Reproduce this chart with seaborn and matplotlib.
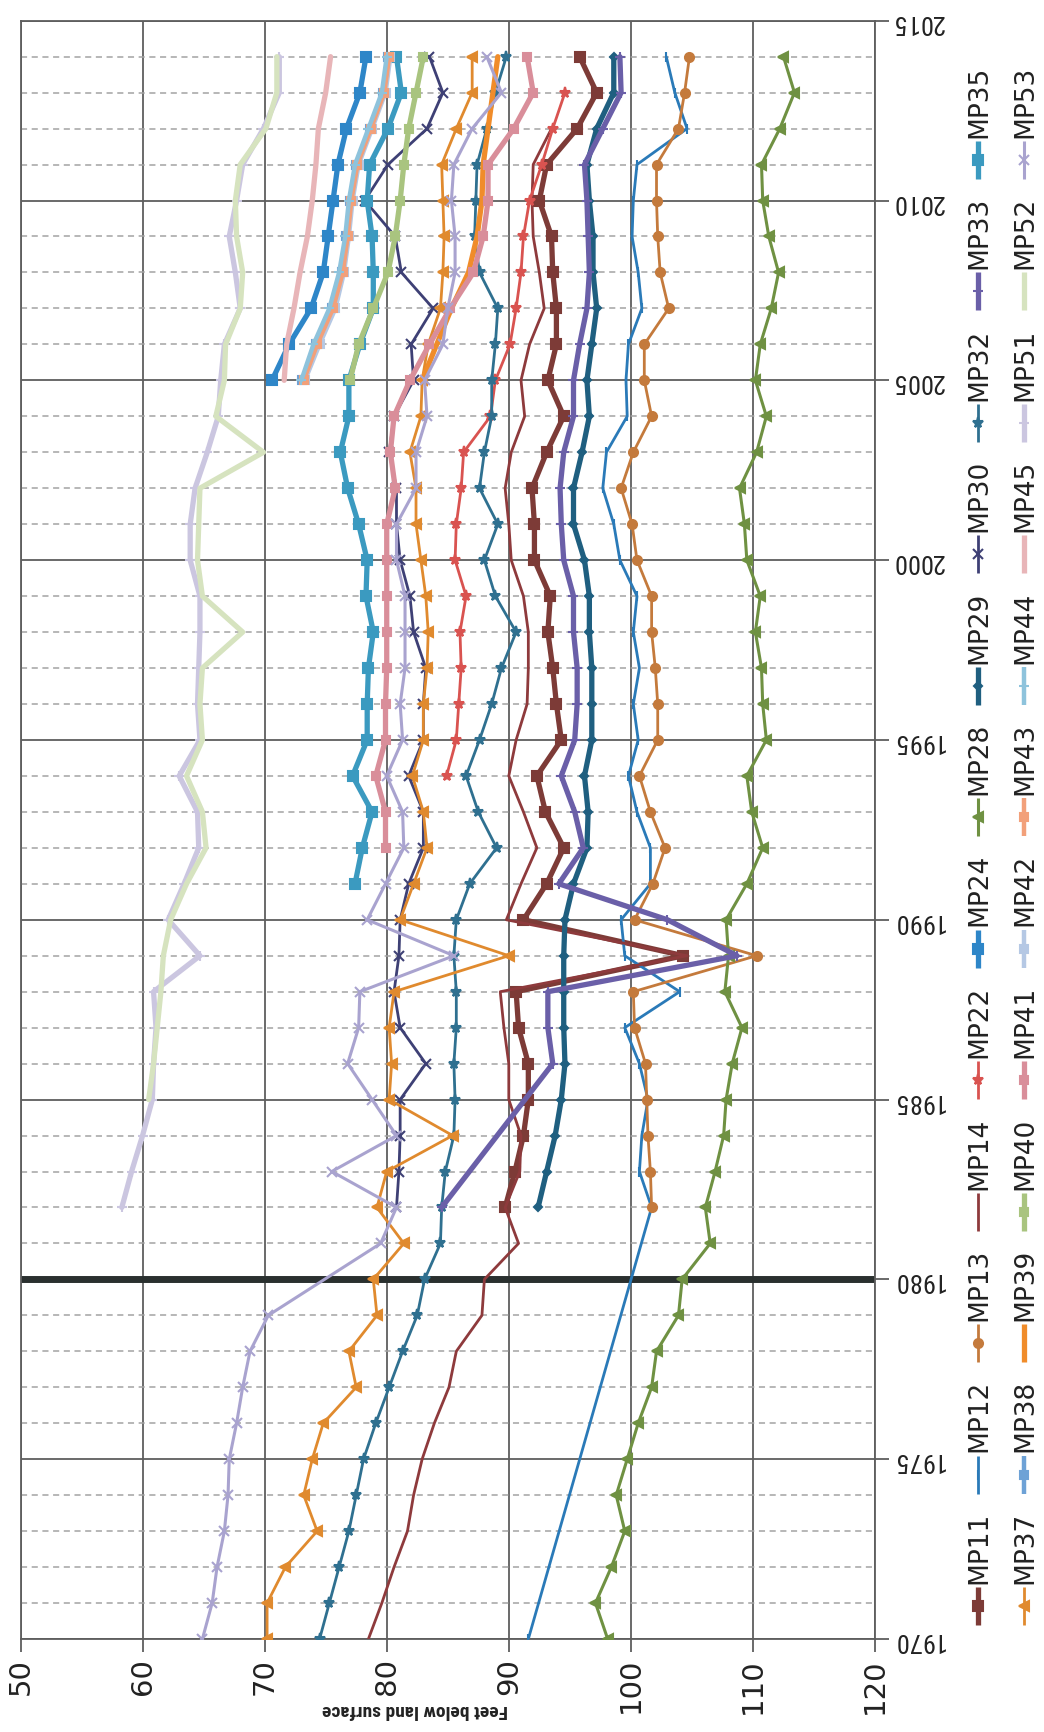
import numpy as np
import pandas as pd
import matplotlib.pyplot as plt
import matplotlib.font_manager as fm
import seaborn as sns

# Depth to water, feet below land surface, one value per year from the first year given
N = None
mp11_start, mp11 = 1982, [89.7, 90.5, 91.2, 91.6, 91.6, 90.8, 90.6, 104.3, 91.2, 93.1, 94.5, 93.0, 92.3, 94.3, 93.9, 93.6, 93.2, 93.4,
                          92.1, 92.1, 91.9, 93.1, 94.5, 93.2, 93.9, 93.9, 93.6, 93.5, 92.5, 93.1, 95.6, 97.2, 95.8]
mp12_start, mp12 = 1970, [91.6, N, N, N, N, N, N, N, N, N, N, N, 101.7, 100.7, 100.9, 101.4, 100.7, 99.5, 104.0, 99.5, 99.2, 101.6,
                          101.6, 100.5, 99.8, 100.6, 100.2, 100.7, 100.2, 100.5, 99.1, 98.6, 97.7, 98.0, 99.7, 99.6, 99.8, 100.9,
                          100.6, 100.1, 100.2, 100.5, 104.6, 103.6, 102.9]
mp13_start, mp13 = 1982, [101.7, 101.6, 101.4, 101.3, 101.2, 100.3, 100.2, 110.3, 100.3, 101.8, 102.8, 101.6, 100.7, 102.2, 102.2,
                          102.0, 101.7, 101.7, 100.5, 100.1, 99.2, 100.2, 101.7, 101.1, 101.1, 103.1, 102.4, 102.2, 102.1, 102.1,
                          103.9, 104.4, 104.8]
mp14_start, mp14 = 1970, [78.5, 79.6, 80.6, 81.7, 82.2, 82.9, 83.9, 85.1, 85.7, 87.8, 88.0, 90.8, 89.7, 90.9, 91.0, 90.0, 90.0, 89.6,
                          89.3, 104.6, 89.8, 91.0, 92.3, 91.2, 90.0, 90.6, 91.5, 91.6, 91.6, 91.2, 90.2, 90.0, 89.7, 90.2, 91.3,
                          91.0, 91.7, 92.9, 92.5, 92.0, 91.9, 92.0, 93.5]
mp22_start, mp22 = 1994, [84.9, 85.7, 85.9, 86.1, 86.0, 86.5, 85.6, 85.7, 86.1, 86.3, 88.5, 88.9, 90.1, 90.6, 91.0, 91.2, 91.7, 92.7,
                          93.6, 94.6]
mp24_start, mp24 = 2005, [70.6, 72.0, 73.8, 74.8, 75.2, 75.6, 76.0, 76.7, 77.8, 78.3]
mp28_start, mp28 = 1970, [98.1, 97.1, 98.4, 99.5, 98.8, 99.7, 100.6, 101.7, 102.1, 103.9, 104.2, 106.5, 106.1, 106.9, 107.6, 107.8,
                          108.3, 109.1, 107.7, 108.0, 107.8, 109.5, 110.8, 109.9, 109.5, 111.1, 110.8, 110.7, 110.2, 110.6, 109.5,
                          109.3, 108.9, 110.3, 111.1, 110.2, 110.6, 111.5, 112.1, 111.3, 110.8, 110.7, 112.2, 113.4, 112.5]
mp29_start, mp29 = 1982, [92.4, 93.1, 93.8, 94.3, 94.6, 94.5, 94.5, 94.5, 94.6, 95.3, 96.4, 96.5, 96.2, 96.8, 96.8, 96.8, 96.6, 96.6,
                          96.2, 95.3, 95.3, 96.0, 96.6, 96.4, 96.8, 97.2, 96.9, 96.9, 96.6, 96.4, 97.2, 98.6, 98.6]
mp30_start, mp30 = 1982, [80.8, 81.0, 81.1, 81.1, 83.2, 81.1, 80.6, 81.0, 81.1, 81.8, 83.0, 83.0, 81.8, 83.0, 83.0, 83.2, 82.2, 81.9,
                          81.1, 80.8, 80.8, 80.2, 80.6, 82.2, 82.0, 83.8, 81.2, 80.7, 78.2, 80.1, 83.3, 84.6, 83.5]
mp32_start, mp32 = 1970, [74.5, 75.3, 76.1, 76.9, 77.5, 78.1, 79.1, 80.2, 81.3, 82.5, 83.1, 84.4, 84.5, 84.8, 85.5, 85.6, 85.5, 85.7,
                          85.7, 85.5, 85.7, 86.8, 89.0, 87.5, 86.5, 87.6, 88.6, 89.4, 90.6, 88.9, 88.0, 89.1, 87.6, 88.0, 88.6,
                          88.6, 88.9, 89.1, 87.6, 87.2, 87.3, 87.4, 88.2, 88.9, 89.8]
mp33_start, mp33 = 1982, [84.5, N, N, N, 93.6, 93.2, 93.2, 108.7, 103.0, 94.1, 96.1, 95.4, 94.3, 95.4, 95.6, 95.6, 95.3, 95.3, 94.5,
                          94.3, 94.2, 94.5, 95.3, 95.3, 95.8, 96.4, 96.6, 96.5, 96.4, 96.2, 97.7, 99.2, 99.1]
mp35_start, mp35 = 1991, [77.4, 78.0, 78.8, 77.2, 78.4, 78.4, 78.5, 78.9, 78.3, 78.4, 77.7, 76.8, 76.2, 76.9, 76.9, 77.8, 78.9, 78.9,
                          78.8, 78.4, 78.6, 80.1, 81.2, 80.8]
mp37_start, mp37 = 1970, [70.2, 70.2, 71.7, 74.3, 73.2, 73.9, 74.8, 77.5, 76.9, 79.2, 78.9, 81.4, 79.2, 80.0, 85.4, 80.2, 80.4, 80.2,
                          80.6, 90.0, 81.1, 82.2, 83.3, 83.0, 82.1, 83.0, 83.0, 83.3, 83.4, 83.2, 82.8, 82.4, 82.4, 81.9, 82.8,
                          82.9, 83.4, 84.4, 84.6, 84.7, 84.6, 84.5, 85.7, 87.0, 87.0]
mp38_start, mp38 = 2005, [73.1, 74.2, 75.5, 76.3, 76.7, 77.0, 77.5, 78.6, 79.7, 80.1]
mp39_start, mp39 = 2005, [82.9, 84.1, 85.3, 86.7, 87.4, 87.8, 87.9, 88.3, 88.7, 89.1]
mp40_start, mp40 = 2005, [77.0, 77.7, 78.9, 80.1, 80.7, 81.1, 81.4, 81.8, 82.4, 83.0]
mp41_start, mp41 = 1992, [79.9, 79.9, 79.1, 79.9, 79.9, 80.0, 80.0, 80.0, 80.0, 80.0, 80.7, 80.3, 80.6, 81.9, 83.5, 85.2, 87.1, 87.9,
                          88.3, 88.3, 90.4, 92.0, 91.5]
mp42_start, mp42 = 2005, [73.3, 74.5, 75.8, 76.5, 76.9, 77.2, 77.7, 78.8, 79.9, 80.3]
mp43_start, mp43 = 2005, [73.2, 74.3, 75.6, 76.4, 76.8, 77.1, 77.6, 78.7, 79.8, 80.2]
mp44_start, mp44 = 2005, [73.0, 74.0, 75.3, 76.1, 76.6, 76.9, 77.4, 78.5, 79.6, 80.0]
mp45_start, mp45 = 2005, [71.6, 71.8, 72.4, 72.9, 73.5, 73.9, 74.2, 74.4, 75.0, 75.4]
mp51_start, mp51 = 1982, [58.3, 59.1, 60.0, 60.8, 60.9, 61.1, 60.9, 64.7, 62.1, 63.4, 64.6, 64.5, 63.0, 64.7, 64.5, 64.6, 64.7, 64.7,
                          63.9, 63.9, 64.3, 65.3, 66.2, 66.4, 66.7, 68.0, 67.6, 67.1, 67.7, 68.2, 69.9, 71.2, 71.2]
mp52_start, mp52 = 1985, [60.5, 60.9, 61.2, 61.5, 61.7, 62.3, 63.6, 65.2, 64.9, 63.6, 64.9, 64.7, 64.9, 68.2, 64.9, 64.5, 64.6, 64.7,
                          69.9, 66.0, 66.7, 66.8, 68.0, 68.2, 67.7, 67.6, 68.0, 70.1, 71.0, 71.0]
mp53_start, mp53 = 1970, [64.9, 65.7, 66.1, 66.7, 67.0, 67.1, 67.7, 68.2, 68.8, 70.3, N, 79.5, 80.8, 75.5, 80.8, 78.8, 76.8, 77.7,
                          77.8, 85.5, 78.4, 79.9, 81.4, 81.3, 80.0, 81.3, 81.1, 81.5, 81.5, 81.5, 80.8, 80.8, 82.4, 82.4, 83.3,
                          83.1, 84.6, 85.0, 85.6, 85.6, 85.3, 85.5, 87.0, 89.4, 88.2]

wells = ['MP11', 'MP12', 'MP13', 'MP14', 'MP22', 'MP24', 'MP28', 'MP29', 'MP30', 'MP32', 'MP33', 'MP35',
         'MP37', 'MP38', 'MP39', 'MP40', 'MP41', 'MP42', 'MP43', 'MP44', 'MP45', 'MP51', 'MP52', 'MP53']
series = [(mp11_start, mp11), (mp12_start, mp12), (mp13_start, mp13), (mp14_start, mp14), (mp22_start, mp22),
          (mp24_start, mp24), (mp28_start, mp28), (mp29_start, mp29), (mp30_start, mp30), (mp32_start, mp32),
          (mp33_start, mp33), (mp35_start, mp35), (mp37_start, mp37), (mp38_start, mp38), (mp39_start, mp39),
          (mp40_start, mp40), (mp41_start, mp41), (mp42_start, mp42), (mp43_start, mp43), (mp44_start, mp44),
          (mp45_start, mp45), (mp51_start, mp51), (mp52_start, mp52), (mp53_start, mp53)]

colors = ['#7d3b37', '#2a7ab8', '#c47a3c', '#8e3a3c', '#d95350', '#2e86c8', '#6f9142', '#1f5f80',
          '#3e4075', '#2f7090', '#6a5fa8', '#3b9ac0', '#e08a2e', '#6ea2d6', '#f08c2a', '#a9c47f',
          '#d98e9a', '#b5c8e4', '#f2a07a', '#8ec3dc', '#e8b5b8', '#cbc6e0', '#d6e3bf', '#a9a3cf']
widths = [3.8, 2.0, 2.0, 2.0, 2.0, 3.8, 2.2, 3.8, 2.0, 2.0, 3.8, 3.8,
          2.0, 3.2, 3.8, 3.8, 3.8, 3.2, 3.2, 3.2, 3.8, 3.8, 3.8, 2.2]
markers = ['s', '|', 'o', '', '*', 's', '<', 'D', 'x', '*', '+', 's',
           '<', 's', '', 's', 's', 's', 's', '+', '', '+', '', 'x']
msizes = [7, 7, 6.5, 0, 8, 7, 7, 4, 7, 8, 7, 7,
          7, 6, 0, 6, 6, 6, 6, 7, 0, 7, 0, 7]

sns.set_theme(style='white')
plt.rcParams['font.family'] = ['DejaVu Sans']

# a narrow face for the horizontal (upside down) texts, whatever is installed
installed = {f.name for f in fm.fontManager.ttflist}
narrow = [f for f in ['Liberation Sans Narrow', 'DejaVu Sans Condensed', 'Roboto Condensed',
                      'Liberation Sans', 'Arimo', 'Roboto', 'Open Sans'] if f in installed][:1] + ['DejaVu Sans']

fig = plt.figure(figsize=(10.44, 17.33), dpi=100)
ax = fig.add_axes([0.01964, 0.05366, 0.8185, 0.93381])

for name, (start, vals), c, lw, mk, ms in zip(wells, series, colors, widths, markers, msizes):
    df = pd.DataFrame({'year': np.arange(start, start + len(vals)),
                       'feet': pd.to_numeric(pd.Series(vals, dtype=object), errors='coerce')})
    df = df.dropna()
    sns.lineplot(data=df, x='feet', y='year', orient='y', estimator=None, color=c, lw=lw,
                 marker=mk if mk else None, ms=ms, mec=c, mfc=c, mew=1.5, ax=ax, zorder=3)

ax.set_xlim(50, 120)
ax.set_ylim(1970, 2015)
ax.set_xticks(range(50, 121, 10))
ax.set_yticks(range(1970, 2016, 5))
ax.set_yticks(range(1970, 2016), minor=True)
ax.set_xlabel('')
ax.set_ylabel('')
ax.set_axisbelow(True)
ax.grid(which='major', axis='both', color='#5e5e5e', lw=1.3)
ax.grid(which='minor', axis='y', color='#a3a3a3', lw=1.1, ls=(0, (4, 3)))
ax.axhline(1980, color='#2a302f', lw=5, zorder=2)

for s in ax.spines.values():
    s.set_color('#5e5e5e')
    s.set_linewidth(1.3)

ax.yaxis.tick_right()
ax.tick_params(axis='x', which='major', bottom=True, direction='out', length=9, width=1.3,
               color='#5e5e5e', labelsize=21, labelrotation=90, pad=4, labelcolor='#222222')
ax.tick_params(axis='y', which='major', right=True, left=False, direction='out', length=10,
               width=1.3, color='#5e5e5e', labelsize=19, pad=2, labelcolor='#222222')
ax.tick_params(axis='y', which='minor', length=0)
for lab in ax.get_yticklabels():
    lab.set_rotation(180)
    lab.set_family(narrow)
    lab.set_verticalalignment('center')

fig.text(415 / 1044, 1 - 1710 / 1733, 'Feet below land surface', rotation=180, ha='center', va='center',
         fontsize=14, fontweight='bold', family=narrow, color='#222222')

# legend, drawn turned like the rest of the page
lax = fig.add_axes([0, 0, 1, 1], zorder=5)
lax.set_xlim(0, 1044)
lax.set_ylim(1733, 0)
lax.axis('off')
for i, (name, c, lw, mk, ms) in enumerate(zip(wells, colors, widths, markers, msizes)):
    x = 978 if i < 12 else 1024
    y = 1607 - (i % 12) * 131.5
    lax.plot([x, x], [y - 19, y + 19], color=c, lw=lw, solid_capstyle='butt')
    if mk:
        lax.plot([x], [y], marker=mk, ms=ms, color=c, mec=c, mew=1.5)
    lax.text(x + 1, y - 23, name, rotation=90, ha='center', va='bottom', fontsize=19, color='#222222')

fig.savefig('out.png', dpi=100)
